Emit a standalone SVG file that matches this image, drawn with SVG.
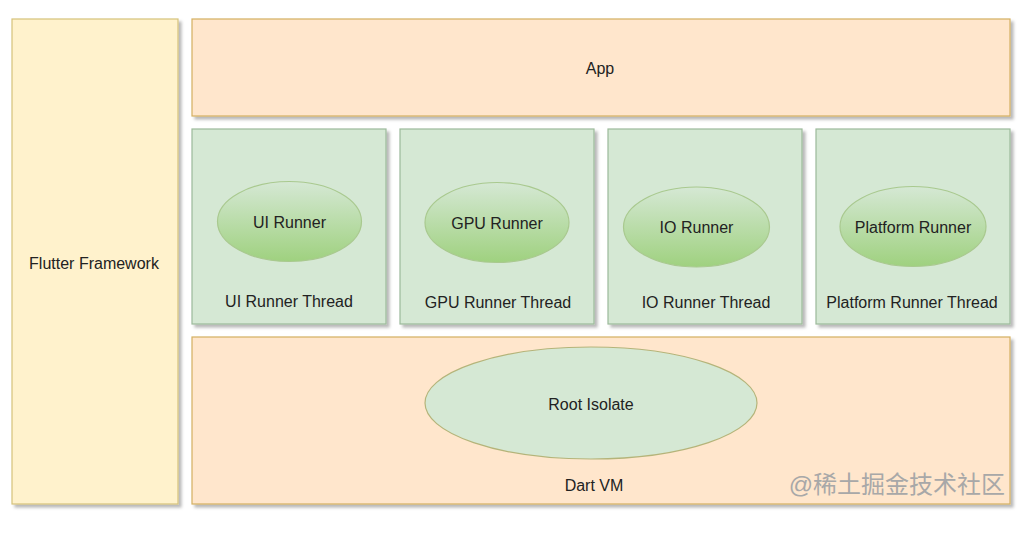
<svg xmlns="http://www.w3.org/2000/svg" width="1018" height="535" viewBox="0 0 1018 535">
<defs>
<filter id="sh" x="-5%" y="-5%" width="115%" height="115%">
<feDropShadow dx="3" dy="3" stdDeviation="1.5" flood-color="#000" flood-opacity="0.28"/>
</filter>
<linearGradient id="eg" x1="0" y1="0" x2="0" y2="1">
<stop offset="0" stop-color="#d5e8d4"/>
<stop offset="1" stop-color="#9fd17f"/>
</linearGradient>
<style>
text{font-family:"Liberation Sans",Arial,sans-serif;font-size:16px;fill:#222;text-anchor:middle;dominant-baseline:central}
.fw{fill:#fff2cc;stroke:#d6c27a;stroke-width:1.2;filter:url(#sh)}
.or{fill:#ffe6cc;stroke:#d4b060;stroke-width:1.2;filter:url(#sh)}
.th{fill:#d5e8d4;stroke:#9cb99a;stroke-width:1.2;filter:url(#sh)}
.el{fill:url(#eg);stroke:#a9c98f;stroke-width:1.2}
.ri{fill:#d5e8d4;stroke:#b4b47a;stroke-width:1.2}
.wm{font-family:"Liberation Sans","Noto Sans CJK SC",sans-serif;font-size:24px;fill:#a8a8a8;text-anchor:end}
</style>
</defs>
<rect width="1018" height="535" fill="#fff"/>
<g id="flutter-framework">
<rect class="fw" x="12" y="19" width="166" height="485"/>
<text x="94" y="263">Flutter Framework</text>
</g>
<g id="app">
<rect class="or" x="192" y="19" width="818" height="97"/>
<text x="600" y="68">App</text>
</g>
<g id="ui-thread">
<rect class="th" x="192" y="129" width="194" height="195"/>
<text x="289" y="301">UI Runner Thread</text>
</g>
<g id="ui-runner">
<ellipse class="el" cx="289.5" cy="221.5" rx="72" ry="40"/>
<text x="289.5" y="222">UI Runner</text>
</g>
<g id="gpu-thread">
<rect class="th" x="400" y="129" width="194" height="195"/>
<text x="498" y="302">GPU Runner Thread</text>
</g>
<g id="gpu-runner">
<ellipse class="el" cx="497" cy="222.5" rx="72" ry="40"/>
<text x="497" y="223">GPU Runner</text>
</g>
<g id="io-thread">
<rect class="th" x="608" y="129" width="194" height="195"/>
<text x="706" y="302">IO Runner Thread</text>
</g>
<g id="io-runner">
<ellipse class="el" cx="696.5" cy="227" rx="73" ry="40"/>
<text x="696.5" y="227">IO Runner</text>
</g>
<g id="platform-thread">
<rect class="th" x="816" y="129" width="194" height="195"/>
<text x="912" y="302">Platform Runner Thread</text>
</g>
<g id="platform-runner">
<ellipse class="el" cx="913" cy="226.5" rx="73" ry="40"/>
<text x="913" y="227">Platform Runner</text>
</g>
<g id="dart-vm">
<rect class="or" x="192" y="337" width="818" height="167"/>
<text x="594" y="485">Dart VM</text>
</g>
<g id="root-isolate">
<ellipse class="ri" cx="591" cy="403" rx="166" ry="56"/>
<text x="591" y="404">Root Isolate</text>
</g>
<g id="connectors"></g>
<text class="wm" x="1005" y="484">@稀土掘金技术社区</text>
</svg>
